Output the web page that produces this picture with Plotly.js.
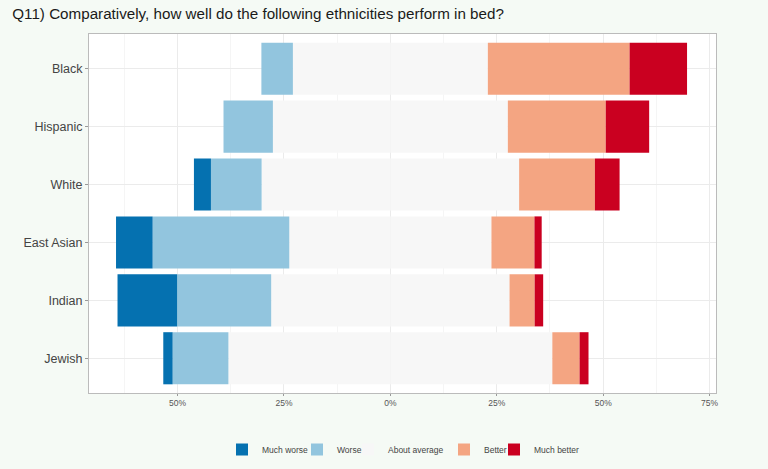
<!DOCTYPE html>
<html><head><meta charset="utf-8">
<script src="https://cdn.plot.ly/plotly-3.0.1.min.js"></script>
<style>html,body{margin:0;padding:0;background:#f5faf5;}#chart{width:768px;height:469px;}</style>
</head><body><div id="chart"></div>
<script>
const categories = ["Black","Hispanic","White","East Asian","Indian","Jewish"];
const muchWorse  = [0.0, 0.0, 4.0, 8.6, 14.0, 2.2];
const worse      = [7.4, 11.6, 11.9, 32.1, 22.1, 13.1];
const average    = [45.8, 55.2, 60.5, 47.5, 56.0, 76.1];
const better     = [33.3, 23.0, 17.8, 10.1, 5.9, 6.4];
const muchBetter = [13.5, 10.2, 5.8, 1.7, 2.0, 2.1];
const tickVals = [-0.5,-0.25,0,0.25,0.5,0.75];
const tickText = ["50%","25%","0%","25%","50%","75%"];

const colors = {mw:"#0571b0", w:"#92c5de", a:"#f7f7f7", b:"#f4a582", mb:"#ca0020"};
const pct = a => a.map(v => v/100);
const neg = a => a.map(v => -v/100);
const half = (a, s) => a.map(v => s*v/200);

// legend entry origins in pixels (symbol centre = origin+20, text = origin+40)
const legendOrigin = {mw:222, w:297, a:348, b:444, mb:494};
const plotL = 89, plotW = 768 - 89 - 52;
const lx = px => (px - plotL) / plotW;

function tr(name, x, color, legend, show){
  return {type:"bar", orientation:"h", y:categories, x:x, name:name,
    marker:{color:color, line:{width:0}}, legend:legend, showlegend:show,
    hoverinfo:"name+x"};
}
const data = [
  tr("About average", half(average,-1), colors.a, "legend3", false),
  tr("About average", half(average,1), colors.a, "legend3", true),
  tr("Worse", neg(worse), colors.w, "legend2", true),
  tr("Better", pct(better), colors.b, "legend4", true),
  tr("Much worse", neg(muchWorse), colors.mw, "legend", true),
  tr("Much better", pct(muchBetter), colors.mb, "legend5", true)
];
function leg(px){
  return {orientation:"h", x:lx(px), xanchor:"left", y:-0.117, yanchor:"top",
    font:{size:8.5, color:"#444"}, bgcolor:"rgba(0,0,0,0)", borderwidth:0};
}
const layout = {
  width:768, height:469,
  paper_bgcolor:"#f5faf5", plot_bgcolor:"#ffffff",
  margin:{l:89, r:52, t:34, b:76, autoexpand:false},
  barmode:"relative", bargap:0.1,
  font:{family:"Liberation Sans, Arial, sans-serif"},
  title:{text:"Q11) Comparatively, how well do the following ethnicities perform in bed?",
    x:0.016, xanchor:"left", y:0.97, yanchor:"middle", yref:"container",
    font:{size:15.2, color:"#1a1a1a"}},
  xaxis:{range:[-0.708,0.765], tickmode:"array", tickvals:tickVals, ticktext:tickText,
    tickfont:{size:8.5, color:"#555"}, ticks:"outside", ticklen:2, tickcolor:"#999",
    showgrid:true, gridcolor:"#ebebeb", gridwidth:1, zeroline:false,
    showline:true, mirror:true, linecolor:"#bbbbbb", linewidth:1,
    minor:{tickmode:"array", tickvals:[-0.625,-0.375,-0.125,0.125,0.375,0.625], showgrid:true, gridcolor:"#f5f5f5", ticks:""}},
  yaxis:{categoryorder:"array", categoryarray:categories, range:[5.6,-0.6], autorange:false,
    tickfont:{size:12.5, color:"#444"}, ticks:"outside", ticklen:3, tickcolor:"#999",
    showgrid:true, gridcolor:"#ebebeb", zeroline:false,
    showline:true, mirror:true, linecolor:"#bbbbbb", linewidth:1},
  legend:leg(legendOrigin.mw),
  legend2:leg(legendOrigin.w),
  legend3:leg(legendOrigin.a),
  legend4:leg(legendOrigin.b),
  legend5:leg(legendOrigin.mb),
  showlegend:true
};
Plotly.newPlot("chart", data, layout, {displayModeBar:false, staticPlot:true});
</script></body></html>
